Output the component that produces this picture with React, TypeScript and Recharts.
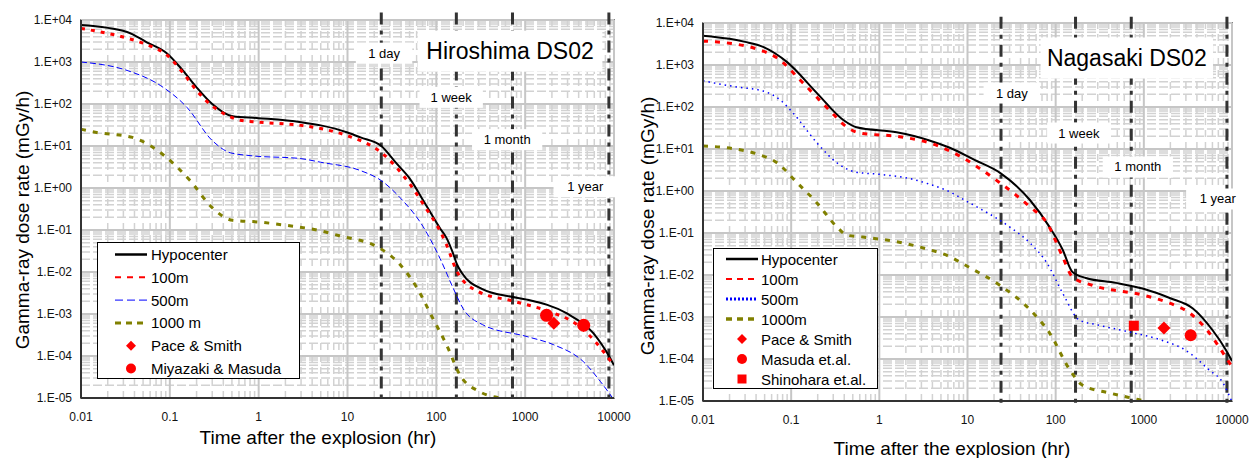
import React from 'react';
import { ComposedChart, Line, Scatter, XAxis, YAxis, ReferenceLine, ReferenceArea, ReferenceDot } from 'recharts';

const FONT = '"Liberation Sans", Arial, Helvetica, sans-serif';

// ---- axes ----
const X_TICKS = [0.01, 0.1, 1, 10, 100, 1000, 10000];
const Y_TICKS = [1e-5, 1e-4, 1e-3, 1e-2, 1e-1, 1, 10, 100, 1000, 10000];
const MINOR_STEPS = [2, 3, 4, 5, 6, 7, 8, 9];
const EVENT_HOURS = [24, 168, 720, 8760]; // 1 day, 1 week, 1 month, 1 year

// ---- Hiroshima DS02 ----
const hiroHypoT = [0.01, 0.033, 0.055, 0.093, 0.14, 0.2, 0.3, 0.51, 1, 3, 5, 10, 14, 24, 35, 50, 75, 110, 130, 155, 170, 195, 330, 680, 1050, 2950, 5850, 9100, 10000];
const hiroHypoV = [7600, 5200, 2950, 1600, 630, 250, 100, 51, 46, 37, 31, 21, 16, 10, 4, 1.7, 0.42, 0.11, 0.065, 0.027, 0.0155, 0.0093, 0.0039, 0.0026, 0.0022, 0.00103, 0.00035, 0.000087, 0.00006];
const hiro100T = [0.01, 0.033, 0.055, 0.093, 0.14, 0.2, 0.3, 0.44, 0.62, 1, 3, 5, 10, 24, 50, 75, 110, 130, 170, 290, 750, 2100, 3400, 5200, 9800];
const hiro100V = [6300, 3700, 2600, 1450, 560, 210, 90, 54, 41, 37, 31, 26, 17.5, 7, 1.26, 0.35, 0.095, 0.045, 0.0105, 0.0035, 0.002, 0.00105, 0.00066, 0.00032, 0.000063];
const hiro500T = [0.01, 0.033, 0.078, 0.156, 0.3, 0.48, 0.8, 3, 5, 14, 24, 39, 71, 110, 155, 200, 330, 1050, 2100, 4500, 7000, 10000];
const hiro500V = [1000, 630, 277, 83, 13.5, 6.9, 5.9, 5, 4.1, 2.6, 1.5, 0.59, 0.12, 0.021, 0.0041, 0.00135, 0.00056, 0.00029, 0.000185, 0.000074, 0.000025, 0.000009];
const hiro1000T = [0.01, 0.015, 0.038, 0.084, 0.169, 0.3, 0.51, 1, 2, 4.5, 8.3, 23, 39, 61, 91, 130, 185, 310, 520, 1050];
const hiro1000V = [25, 21, 16, 6.2, 1.5, 0.34, 0.17, 0.155, 0.13, 0.1, 0.072, 0.037, 0.015, 0.0041, 0.0008, 0.000186, 0.000035, 0.000014, 0.00001, 0.000008];
const hiroPaceT = [2100];
const hiroPaceV = [0.0006];
const hiroMiyazakiT = [1740, 4560];
const hiroMiyazakiV = [0.00093, 0.00054];
const hiroNoteText = ['Hiroshima DS02', '1 day', '1 week', '1 month', '1 year'];
const hiroNoteT = [676, 25.8, 147, 627, 4740];
const hiroNoteV = [1810, 1620, 144, 14.2, 1.07];

// ---- Nagasaki DS02 ----
const nagaHypoT = [0.01, 0.02, 0.03, 0.048, 0.09, 0.196, 0.39, 0.55, 1.57, 3.7, 6.3, 12, 23.4, 51, 85, 120, 155, 220, 480, 990, 2000, 3600, 6000, 8600, 10000];
const nagaHypoV = [5000, 4200, 3550, 2700, 1170, 214, 49, 33, 25, 16, 10.7, 5.5, 2.7, 0.61, 0.14, 0.04, 0.0118, 0.0085, 0.0065, 0.0047, 0.0028, 0.0016, 0.00049, 0.00016, 0.00009];
const naga100T = [0.01, 0.02, 0.041, 0.069, 0.136, 0.27, 0.43, 0.6, 1.57, 3.7, 6.3, 23, 51, 80, 120, 155, 260, 990, 2000, 3300, 5200, 7900, 10000];
const naga100V = [3700, 3300, 2400, 1480, 375, 85, 33, 24, 20, 14, 9, 1.6, 0.42, 0.17, 0.027, 0.009, 0.0057, 0.0033, 0.0021, 0.00125, 0.00049, 0.00014, 0.000065];
const naga500T = [0.01, 0.024, 0.048, 0.075, 0.105, 0.196, 0.33, 0.55, 1, 2.4, 3.7, 5.7, 10.6, 30, 51, 80, 120, 185, 290, 680, 1600, 3000, 5500, 7900, 10000];
const naga500V = [420, 300, 240, 148, 72, 14, 4.7, 2.8, 2.5, 1.9, 1.45, 1.05, 0.52, 0.14, 0.058, 0.019, 0.0037, 0.00085, 0.00066, 0.00044, 0.00028, 0.00016, 0.000055, 0.000027, 0.0000095];
const naga1000T = [0.01, 0.02, 0.041, 0.069, 0.116, 0.196, 0.33, 0.43, 0.65, 1.57, 3.7, 5.7, 10.6, 23, 51, 85, 145, 200, 410, 830, 1600];
const naga1000V = [11.8, 10.5, 7.6, 4.7, 1.6, 0.52, 0.14, 0.089, 0.08, 0.062, 0.04, 0.03, 0.015, 0.0058, 0.0015, 0.00042, 0.000055, 0.000024, 0.0000155, 0.000011, 0.000008];
const nagaPaceT = [1690];
const nagaPaceV = [0.00055];
const nagaMasudaT = [3400];
const nagaMasudaV = [0.00037];
const nagaShinoharaT = [770];
const nagaShinoharaV = [0.00062];
const nagaNoteText = ['Nagasaki DS02', '1 day', '1 week', '1 month', '1 year'];
const nagaNoteT = [641, 31.8, 183, 855, 6900];
const nagaNoteV = [1468, 215, 24, 3.73, 0.645];

type P = { t: number; v: number };
const pts = (t: number[], v: number[]): P[] => t.map((x, i) => ({ t: x, v: v[i] }));

const fmtX = (v: number) => String(v);
const fmtY = (v: number) => {
  const e = Math.round(Math.log10(v));
  return `1.E${e < 0 ? '-' : '+'}${String(Math.abs(e)).padStart(2, '0')}`;
};
const minorOf = (decades: number[]) => decades.slice(0, -1).flatMap((d) => MINOR_STEPS.map((k) => k * d));

type Series = { name: string; data: P[]; color: string; width: number; dash?: string };
type Marker = { name: string; data: P[]; shape: 'diamond' | 'circle' | 'square'; size: number };
type Note = { text: string; t: number; v: number; size: number };

const RED = '#ff0000';
const BLUE = '#0000ff';
const OLIVE = '#808000';

const notes = (text: string[], t: number[], v: number[]): Note[] =>
  text.map((s, i) => ({ text: s, t: t[i], v: v[i], size: i === 0 ? 23 : 13 }));

const hiroSeries: Series[] = [
  { name: 'Hypocenter', data: pts(hiroHypoT, hiroHypoV), color: '#000', width: 2 },
  { name: '100m', data: pts(hiro100T, hiro100V), color: RED, width: 3, dash: '4 6' },
  { name: '500m', data: pts(hiro500T, hiro500V), color: BLUE, width: 1, dash: '6 3' },
  { name: '1000 m', data: pts(hiro1000T, hiro1000V), color: OLIVE, width: 3, dash: '5 7' },
];
const hiroMarkers: Marker[] = [
  { name: 'Pace & Smith', data: pts(hiroPaceT, hiroPaceV), shape: 'diamond', size: 13 },
  { name: 'Miyazaki & Masuda', data: pts(hiroMiyazakiT, hiroMiyazakiV), shape: 'circle', size: 13 },
];
const nagaSeries: Series[] = [
  { name: 'Hypocenter', data: pts(nagaHypoT, nagaHypoV), color: '#000', width: 2 },
  { name: '100m', data: pts(naga100T, naga100V), color: RED, width: 3, dash: '5 7' },
  { name: '500m', data: pts(naga500T, naga500V), color: BLUE, width: 1.5, dash: '1.5 4' },
  { name: '1000m', data: pts(naga1000T, naga1000V), color: OLIVE, width: 3, dash: '5 7' },
];
const nagaMarkers: Marker[] = [
  { name: 'Pace & Smith', data: pts(nagaPaceT, nagaPaceV), shape: 'diamond', size: 13 },
  { name: 'Masuda et.al.', data: pts(nagaMasudaT, nagaMasudaV), shape: 'circle', size: 12 },
  { name: 'Shinohara et.al.', data: pts(nagaShinoharaT, nagaShinoharaV), shape: 'square', size: 10 },
];

function MarkerShape({ cx, cy, shape, size, color }: { cx: number; cy: number; shape: string; size: number; color: string }) {
  if (shape === 'circle') return <circle cx={cx} cy={cy} r={size / 2} fill={color} />;
  if (shape === 'square') return <rect x={cx - size / 2} y={cy - size / 2} width={size} height={size} fill={color} />;
  const h = size / 2;
  return <polygon points={`${cx},${cy - h} ${cx + h},${cy} ${cx},${cy + h} ${cx - h},${cy}`} fill={color} />;
}

function NoteBox({ cx, cy, text, size }: { cx: number; cy: number; text: string; size: number }) {
  const w = text.length * size * 0.53 + (size > 20 ? 14 : 22);
  const h = size + (size > 20 ? 18 : 8);
  return (
    <g>
      <rect x={cx - w / 2} y={cy - h / 2} width={w} height={h} fill="#fff" />
      <text x={cx} y={cy} textAnchor="middle" dominantBaseline="central" fontSize={size} fontFamily={FONT} fill="#000">
        {text}
      </text>
    </g>
  );
}

type PanelCfg = {
  width: number;
  margin: { top: number; right: number; bottom: number; left: number };
  series: Series[];
  markers: Marker[];
  notes: Note[];
  top: number;
};

const tickStyle = { fontSize: 12, fill: '#111', fontFamily: FONT };

function Panel({ p }: { p: PanelCfg }) {
  const xMinor = minorOf(X_TICKS);
  const yMinor = minorOf(Y_TICKS);
  return (
    <ComposedChart width={p.width} height={458} margin={p.margin}>
      <XAxis
        type="number"
        dataKey="t"
        scale="log"
        domain={[0.01, 10000]}
        allowDataOverflow
        ticks={X_TICKS}
        interval={0}
        tickFormatter={fmtX}
        tickLine={false}
        tickSize={6}
        tickMargin={8}
        height={30}
        axisLine={{ stroke: '#333', strokeWidth: 2 }}
        tick={tickStyle}
      />
      <YAxis
        type="number"
        dataKey="v"
        scale="log"
        domain={[1e-5, 1e4]}
        allowDataOverflow
        ticks={Y_TICKS}
        interval={0}
        tickFormatter={fmtY}
        tickLine={false}
        tickSize={6}
        tickMargin={3}
        width={70}
        axisLine={{ stroke: '#333', strokeWidth: 2 }}
        tick={tickStyle}
      />
      {yMinor.map((v) => (
        <ReferenceLine key={'ym' + v} y={v} stroke="#d2d2d2" strokeWidth={1.5} strokeDasharray="9 3" />
      ))}
      {xMinor.map((v) => (
        <ReferenceLine key={'xm' + v} x={v} stroke="#d2d2d2" strokeWidth={1.5} strokeDasharray="7 5" />
      ))}
      {Y_TICKS.map((v) => (
        <ReferenceLine key={'yM' + v} y={v} stroke="#c6c6c6" strokeWidth={2} />
      ))}
      {X_TICKS.map((v) => (
        <ReferenceLine key={'xM' + v} x={v} stroke="#c6c6c6" strokeWidth={2} />
      ))}
      <ReferenceArea x1={0.01} x2={10000} y1={1e-5} y2={1e4} fill="none" stroke="#222" strokeWidth={1.5} ifOverflow="visible" />
      {EVENT_HOURS.map((h) => (
        <ReferenceLine
          key={'ev' + h}
          segment={[{ x: h, y: p.top }, { x: h, y: 8e-6 }]}
          ifOverflow="visible"
          stroke="#333"
          strokeWidth={3}
          strokeDasharray="12 6 4 6"
        />
      ))}
      {p.notes.map((n) => (
        <ReferenceDot
          key={'n' + n.text}
          x={n.t}
          y={n.v}
          r={0}
          ifOverflow="visible"
          shape={(q: any) => <NoteBox cx={q.cx} cy={q.cy} text={n.text} size={n.size} />}
        />
      ))}
      {p.series.map((s) => (
        <Line
          key={s.name}
          name={s.name}
          data={s.data}
          dataKey="v"
          type="monotone"
          stroke={s.color}
          strokeWidth={s.width}
          strokeDasharray={s.dash}
          dot={false}
          activeDot={false}
          isAnimationActive={false}
        />
      ))}
      {p.markers.map((m) => (
        <Scatter
          key={m.name}
          name={m.name}
          data={m.data}
          dataKey="v"
          isAnimationActive={false}
          shape={(q: any) => <MarkerShape cx={q.cx} cy={q.cy} shape={m.shape} size={m.size} color={RED} />}
        />
      ))}
    </ComposedChart>
  );
}

type LegendItem = { label: string; kind: 'line' | 'diamond' | 'circle' | 'square'; color: string; width?: number; dash?: string };

function LegendBox({
  left, top, w, h, items, y0, step, lx1, lx2, tx,
}: { left: number; top: number; w: number; h: number; items: LegendItem[]; y0: number; step: number; lx1: number; lx2: number; tx: number }) {
  const mx = (lx1 + lx2) / 2;
  return (
    <svg style={{ position: 'absolute', left, top }} width={w} height={h}>
      <rect x={0.5} y={0.5} width={w - 1} height={h - 1} fill="#fff" stroke="#000" strokeWidth={1} />
      {items.map((it, i) => {
        const y = y0 + i * step;
        return (
          <g key={it.label}>
            {it.kind === 'line' ? (
              <line x1={lx1} x2={lx2} y1={y} y2={y} stroke={it.color} strokeWidth={it.width} strokeDasharray={it.dash} />
            ) : (
              <MarkerShape cx={mx} cy={y} shape={it.kind} size={it.kind === 'square' ? 9 : 10} color={it.color} />
            )}
            <text x={tx} y={y} dominantBaseline="central" fontSize={15} fontFamily={FONT} fill="#000">
              {it.label}
            </text>
          </g>
        );
      })}
    </svg>
  );
}

const hiroLegend: LegendItem[] = [
  { label: 'Hypocenter', kind: 'line', color: '#000', width: 2.5 },
  { label: '100m', kind: 'line', color: RED, width: 2, dash: '6 6' },
  { label: '500m', kind: 'line', color: BLUE, width: 1, dash: '8 4' },
  { label: '1000 m', kind: 'line', color: OLIVE, width: 3, dash: '6 5' },
  { label: 'Pace & Smith', kind: 'diamond', color: RED },
  { label: 'Miyazaki & Masuda', kind: 'circle', color: RED },
];
const nagaLegend: LegendItem[] = [
  { label: 'Hypocenter', kind: 'line', color: '#000', width: 2.5 },
  { label: '100m', kind: 'line', color: RED, width: 2, dash: '6 5' },
  { label: '500m', kind: 'line', color: BLUE, width: 3, dash: '2 2' },
  { label: '1000m', kind: 'line', color: OLIVE, width: 3.5, dash: '6 5' },
  { label: 'Pace & Smith', kind: 'diamond', color: RED },
  { label: 'Masuda et.al.', kind: 'circle', color: RED },
  { label: 'Shinohara et.al.', kind: 'square', color: RED },
];

const hiro: PanelCfg = {
  width: 645,
  margin: { top: 20, right: 31, bottom: 30, left: 11 },
  series: hiroSeries,
  markers: hiroMarkers,
  notes: notes(hiroNoteText, hiroNoteT, hiroNoteV),
  top: 1.5e4,
};
const naga: PanelCfg = {
  width: 624,
  margin: { top: 23, right: 17, bottom: 27, left: 8 },
  series: nagaSeries,
  markers: nagaMarkers,
  notes: notes(nagaNoteText, nagaNoteT, nagaNoteV),
  top: 1.4e4,
};

const titleStyle: React.CSSProperties = {
  position: 'absolute',
  fontSize: 19,
  fontFamily: FONT,
  whiteSpace: 'nowrap',
  color: '#000',
  lineHeight: 1,
};

export default function App() {
  return (
    <div style={{ position: 'absolute', left: 0, top: 0, width: 1249, height: 458, background: '#fff', overflow: 'hidden', fontFamily: FONT }}>
      <div style={{ position: 'absolute', left: 625, top: 0 }}>
        <Panel p={naga} />
      </div>
      <div style={{ position: 'absolute', left: 0, top: 0 }}>
        <Panel p={hiro} />
      </div>
      <LegendBox left={97} top={242} w={203} h={137} items={hiroLegend} y0={12.5} step={22.8} lx1={18} lx2={50} tx={54} />
      <LegendBox left={713} top={248} w={165} h={141} items={nagaLegend} y0={11} step={20} lx1={13} lx2={45} tx={48} />
      <div style={{ ...titleStyle, left: 22, top: 220, transform: 'translate(-50%,-50%) rotate(-90deg)' }}>Gamma-ray dose rate (mGy/h)</div>
      <div style={{ ...titleStyle, left: 647, top: 226, transform: 'translate(-50%,-50%) rotate(-90deg)' }}>Gamma-ray dose rate (mGy/h)</div>
      <div style={{ ...titleStyle, left: 318, top: 437, transform: 'translate(-50%,-50%)' }}>Time after the explosion (hr)</div>
      <div style={{ ...titleStyle, left: 952, top: 448, transform: 'translate(-50%,-50%)' }}>Time after the explosion (hr)</div>
    </div>
  );
}
